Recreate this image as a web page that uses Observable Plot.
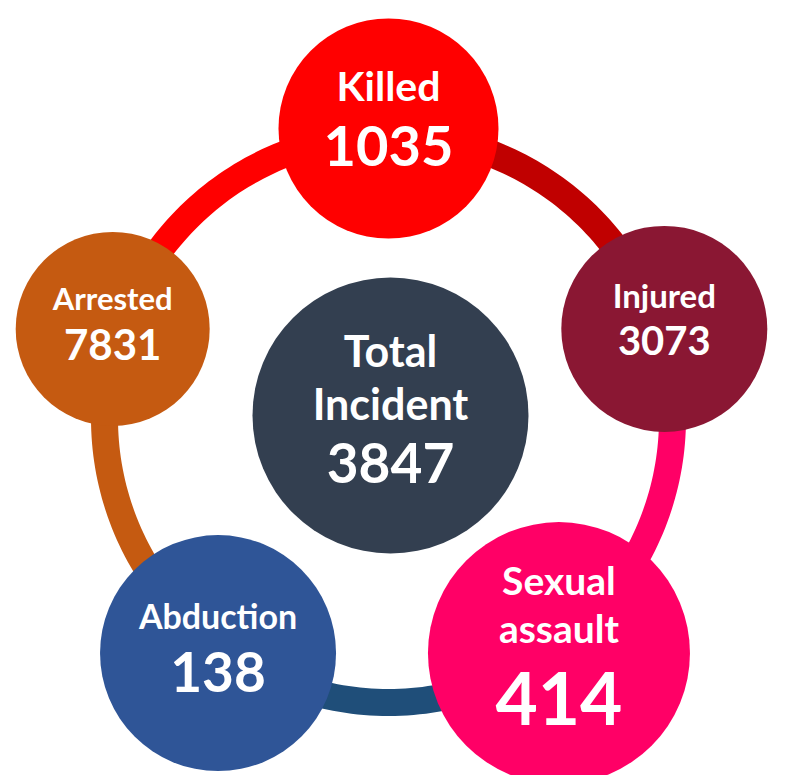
<!DOCTYPE html>
<html><head><meta charset="utf-8">
<script src="https://cdn.jsdelivr.net/npm/d3@7"></script>
<script src="https://cdn.jsdelivr.net/npm/@observablehq/plot@0.6"></script>
<style>html,body{margin:0;padding:0;background:#fff;}</style>
</head><body><div id="chart"></div>
<script>
// ---- data ----
const categories = ["Killed", "Injured", "Sexual\nassault", "Abduction", "Arrested"];
const values = [1035, 3073, 414, 138, 7831];
const totalLabel = "Total\nIncident";
const totalValue = 3847;

// ---- styles ----
const circleColors = ["#FF0000", "#8A1733", "#FF0066", "#2F5597", "#C55A11"];
const arcColors = ["#C00000", "#FF0066", "#1F4E79", "#C55A11", "#FF0000"];
const totalColor = "#333F50";
const radii = [110, 103, 131, 118, 97];
const totalRadius = 138;
const labelSizes = [41, 33, 39, 34, 31];
const valueSizes = [56, 40, 73, 55, 42];
const textShift = [-10, -9, -7, -5, -5];

const W = 786, H = 775, cx = 388, cy = 418, placeR = 290, ringR = 284, ringWidth = 27;
const angle = i => (-90 + 72 * i) * Math.PI / 180;

const nodes = categories.map((c, i) => ({
  label: c, value: values[i],
  x: cx + placeR * Math.cos(angle(i)), y: cy + placeR * Math.sin(angle(i)),
  r: radii[i], fill: circleColors[i], ls: labelSizes[i], vs: valueSizes[i], shift: textShift[i]
}));
nodes.push({label: totalLabel, value: totalValue, x: cx + 2, y: cy - 3, r: totalRadius, fill: totalColor, ls: 43, vs: 55, shift: -6});

const arcs = [];
categories.forEach((c, i) => {
  const a0 = angle(i), a1 = angle(i) + 72 * Math.PI / 180;
  for (let k = 0; k <= 60; k++) {
    const a = a0 + (a1 - a0) * k / 60;
    arcs.push({seg: i, x: cx + ringR * Math.cos(a), y: cy + ringR * Math.sin(a), stroke: arcColors[i]});
  }
});

const texts = [];
nodes.forEach(n => {
  const lines = n.label.split("\n");
  const rows = []; let b = 0;
  lines.forEach((t, j) => { if (j > 0) b += 1.22 * n.ls; rows.push({t, size: n.ls, b}); });
  b += 1.08 * n.vs + 4; rows.push({t: String(n.value), size: n.vs, b});
  const top = -0.72 * n.ls, mid = (top + b) / 2;
  rows.forEach(r => texts.push({x: n.x, y: n.y + r.b - mid + n.shift, text: r.t, size: r.size}));
});

const chart = Plot.plot({
  width: W, height: H, margin: 0,
  x: {domain: [0, W], range: [0, W], axis: null},
  y: {domain: [0, H], range: [0, H], axis: null},
  r: {type: "identity"},
  color: {type: "identity"},
  style: {fontFamily: "Lato, sans-serif", background: "#fff"},
  marks: [
    Plot.line(arcs, {x: "x", y: "y", z: "seg", stroke: "stroke", strokeWidth: ringWidth, strokeLinecap: "butt"}),
    Plot.dot(nodes, {x: "x", y: "y", r: "r", fill: "fill", stroke: null}),
    Plot.text(texts, {x: "x", y: "y", text: "text", fontSize: "size", fill: "white", fontWeight: "bold", lineAnchor: "bottom"})
  ]
});
document.getElementById("chart").appendChild(chart);
</script>
</body></html>
